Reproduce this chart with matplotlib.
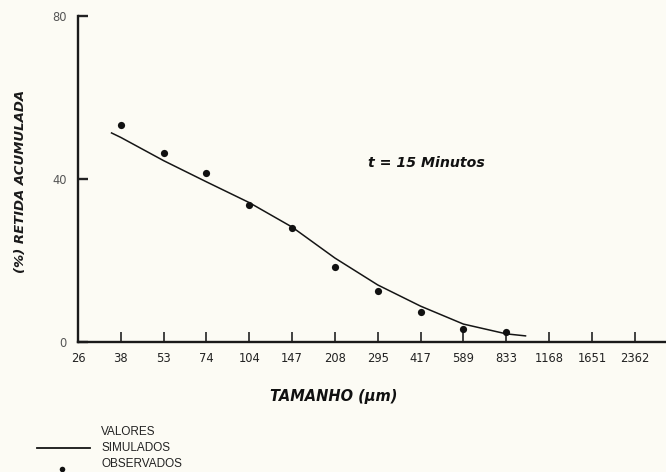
import numpy as np
import matplotlib
matplotlib.use("Agg")
import matplotlib.pyplot as plt
from matplotlib.lines import Line2D

# ---- data ----
tick_sizes = [26, 38, 53, 74, 104, 147, 208, 295, 417, 589, 833, 1168, 1651, 2362]
tick_labels = [str(s) for s in tick_sizes]

obs_sizes = [38, 53, 74, 104, 147, 208, 295, 417, 589, 833]
obs_values = [53.3, 46.4, 41.5, 33.6, 28.0, 18.4, 12.5, 7.4, 3.2, 2.5]

sim_sizes = [35, 38, 53, 74, 104, 147, 208, 295, 417, 589, 833, 970]
sim_values = [51.3, 50.2, 44.5, 39.3, 34.2, 28.2, 20.6, 14.0, 8.8, 4.4, 2.0, 1.5]

y_ticks = [0, 40, 80]

# ---- scale: equally spaced size classes (log-interpolated between classes) ----
idx = np.arange(len(tick_sizes))
def pos(s):
    return np.interp(np.log(np.asarray(s, float)), np.log(tick_sizes), idx)

bg = "#fcfbf4"
plt.rcParams["font.family"] = ["DejaVu Sans"]

fig = plt.figure(figsize=(6.66, 4.72), dpi=100, facecolor=bg)
ax = fig.add_axes([78/666, 1 - 342/472, 1 - 78/666 - 0.002, (342 - 16)/472])
ax.set_facecolor(bg)

ax.plot(pos(sim_sizes), sim_values, color="#151515", lw=1.1)
ax.plot(pos(obs_sizes), obs_values, "o", color="#111111", ms=5.2, mec="none")

ax.set_xlim(0, 13.7)
ax.set_ylim(0, 80)
ax.spines["top"].set_visible(False)
ax.spines["right"].set_visible(False)
for sp in ("left", "bottom"):
    ax.spines[sp].set_linewidth(1.7)
    ax.spines[sp].set_color("#1a1a1a")

ax.set_xticks(idx)
ax.set_xticklabels(tick_labels, fontsize=8.3, color="#222222")
ax.set_yticks(y_ticks)
ax.set_yticklabels([str(v) for v in y_ticks], fontsize=8.3, color="#555555")
ax.tick_params(axis="x", direction="in", length=7, width=1.2, pad=7, color="#222222")
ax.tick_params(axis="y", direction="in", length=7, width=1.7, pad=8, color="#222222")

fig.text(21/666, 1 - 181/472, "(%) RETIDA ACUMULADA", rotation=90,
         ha="center", va="center", fontsize=9.5, fontweight="bold",
         fontstyle="italic", color="#1a1a1a")
fig.text(334/666, 1 - 397/472, "TAMANHO (\u00b5m)", ha="center", va="center",
         fontsize=10.5, fontweight="bold", fontstyle="italic", color="#111111")
fig.text(368/666, 1 - 163/472, "t = 15 Minutos", ha="left", va="center",
         fontsize=10.2, fontweight="bold", fontstyle="italic", color="#111111")

# legend (drawn manually in figure coordinates)
fig.add_artist(Line2D([37/666, 90/666], [1 - 448/472, 1 - 448/472],
                      color="#151515", lw=1.3))
fig.add_artist(Line2D([62/666], [1 - 469/472], marker="o", ms=4,
                      color="#111111", mec="none", ls="none"))
for txt, y in [("VALORES", 432), ("SIMULADOS", 448), ("OBSERVADOS", 464)]:
    fig.text(101/666, 1 - y/472, txt, ha="left", va="center", fontsize=8.5,
             color="#222222", family="Liberation Sans")

fig.savefig("out.png", dpi=100, facecolor=bg)
